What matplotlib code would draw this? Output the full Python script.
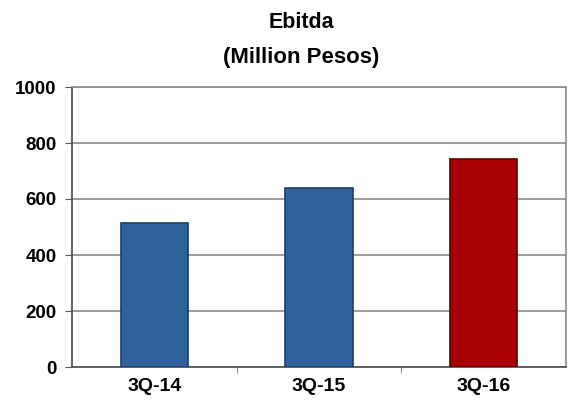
import matplotlib.pyplot as plt
import numpy as np

plt.rcParams['font.family'] = ['Liberation Sans', 'DejaVu Sans']
plt.rcParams['font.weight'] = 'bold'

quarters = ["3Q-14", "3Q-15", "3Q-16"]
ebitda = [515, 640, 742]
bar_colors = ["#2f629c", "#2f629c", "#a80000"]
edge_colors = ["#1e3f66", "#1e3f66", "#5e0000"]

fig = plt.figure(figsize=(5.68, 4.0), dpi=100)
ax = fig.add_axes([0.127, 0.0825, 0.869, 0.70])

x = np.arange(len(quarters))
ax.bar(x, ebitda, width=0.41, color=bar_colors, edgecolor=edge_colors,
       linewidth=1.2, zorder=3)

ax.set_xlim(-0.5, 2.5)
ax.set_ylim(0, 1000)
ax.set_yticks(np.arange(0, 1001, 200))
ax.yaxis.grid(True, color="#8c8c8c", linewidth=1.2, zorder=0)

ax.set_xticks(x)
ax.set_xticklabels(quarters)
ax.set_xticks([0.5, 1.5], minor=True)
ax.tick_params(axis="x", which="major", length=0, pad=8, labelsize=14)
ax.tick_params(axis="x", which="minor", length=4, color="#777777")
ax.tick_params(axis="y", length=5, color="#555555", pad=6, labelsize=13.5)

for side in ["left", "bottom"]:
    ax.spines[side].set_color("#555555")
    ax.spines[side].set_linewidth(1.3)
for side in ["top", "right"]:
    ax.spines[side].set_color("#8c8c8c")
    ax.spines[side].set_linewidth(1.2)

fig.text(0.53, 0.943, "Ebitda", ha="center", va="center", fontsize=15.5,
         fontweight="bold")
fig.text(0.53, 0.855, "(Million Pesos)", ha="center", va="center",
         fontsize=16, fontweight="bold")

fig.savefig("out.png", dpi=100)
